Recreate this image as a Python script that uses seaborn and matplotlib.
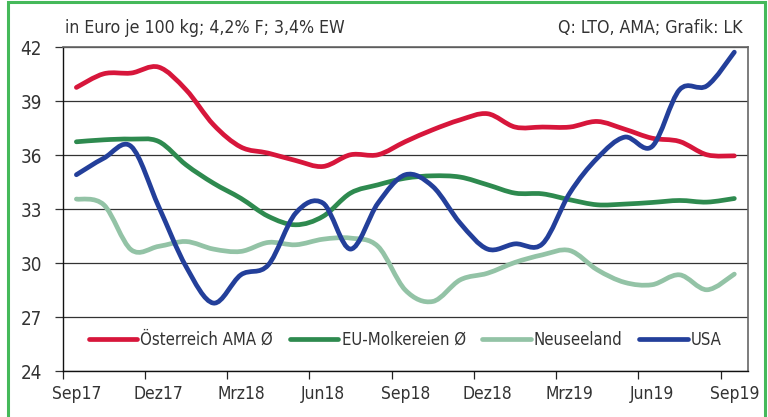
import numpy as np
import pandas as pd
import matplotlib
matplotlib.use("Agg")
import matplotlib.pyplot as plt
from matplotlib.path import Path
from matplotlib.patches import PathPatch, Rectangle
from matplotlib.lines import Line2D
import seaborn as sns

# Monatswerte Sep17 .. Sep19
months = ["Sep17", "Okt17", "Nov17", "Dez17", "Jan18", "Feb18", "Mrz18", "Apr18", "Mai18",
          "Jun18", "Jul18", "Aug18", "Sep18", "Okt18", "Nov18", "Dez18", "Jan19", "Feb19",
          "Mrz19", "Apr19", "Mai19", "Jun19", "Jul19", "Aug19", "Sep19"]

oesterreich = [39.76, 40.52, 40.56, 40.89, 39.63, 37.69, 36.45, 36.11, 35.70, 35.37, 36.02, 36.02,
               36.75, 37.41, 37.96, 38.30, 37.56, 37.56, 37.56, 37.87, 37.44, 36.94, 36.76, 36.02, 35.96]
eu_molkereien = [36.74, 36.85, 36.89, 36.76, 35.46, 34.44, 33.60, 32.60, 32.13, 32.60, 33.89, 34.35,
                 34.72, 34.85, 34.78, 34.35, 33.89, 33.85, 33.52, 33.24, 33.28, 33.37, 33.48, 33.39, 33.59]
neuseeland = [33.56, 33.24, 30.74, 30.93, 31.20, 30.78, 30.65, 31.15, 31.02, 31.33, 31.39, 30.93,
              28.50, 27.87, 29.07, 29.44, 30.04, 30.46, 30.70, 29.63, 28.93, 28.80, 29.35, 28.52, 29.39]
usa = [34.91, 35.83, 36.48, 33.15, 29.81, 27.78, 29.35, 29.90, 32.78, 33.33, 30.78, 33.33,
       34.91, 34.26, 32.22, 30.78, 31.07, 31.07, 33.90, 35.83, 37.00, 36.48, 39.63, 39.85, 41.72]

labels = ["Österreich AMA Ø", "EU-Molkereien Ø", "Neuseeland", "USA"]
colors = ["#D7163B", "#2E8A4F", "#93C3A6", "#233F9A"]
tick_labels = ["Sep17", "Dez17", "Mrz18", "Jun18", "Sep18", "Dez18", "Mrz19", "Jun19", "Sep19"]

sns.set_style("white")
plt.rcParams["font.family"] = ["DejaVu Sans"]
plt.rcParams["font.stretch"] = "condensed"

df = pd.DataFrame({
    "monat": months * 4,
    "pos": list(np.arange(len(months)) + 0.5) * 4,
    "wert": oesterreich + eu_molkereien + neuseeland + usa,
    "serie": [l for l in labels for _ in months],
})

fig = plt.figure(figsize=(7.68, 4.17), dpi=100)
ax = fig.add_axes([0.0816, 0.110, 0.8924, 0.777])

# seaborn legt die Daten an, die Kurven werden geglättet darüber gezeichnet
sns.lineplot(data=df, x="pos", y="wert", hue="serie", palette=dict(zip(labels, colors)),
             linewidth=0, legend=False, ax=ax)


def smooth_path(x, y):
    # Catmull-Rom -> Bezier, wie die geglätteten Linien in Excel
    p = np.column_stack([x, y])
    n = len(p)
    verts = [p[0]]
    codes = [Path.MOVETO]
    for i in range(n - 1):
        p0 = p[i - 1] if i > 0 else p[i]
        p3 = p[i + 2] if i + 2 < n else p[i + 1]
        c1 = p[i] + (p[i + 1] - p0) / 6
        c2 = p[i + 1] - (p3 - p[i]) / 6
        verts += [c1, c2, p[i + 1]]
        codes += [Path.CURVE4] * 3
    return Path(verts, codes)


for lab, col in zip(labels, colors):
    sub = df[df["serie"] == lab]
    patch = PathPatch(smooth_path(sub["pos"].values, sub["wert"].values), facecolor="none",
                      edgecolor=col, linewidth=3.4, capstyle="round", joinstyle="round", zorder=3)
    ax.add_patch(patch)

ax.set_xlim(0, 25)
ax.set_ylim(24, 42)
ax.set_yticks(np.arange(24, 43, 3))
ax.yaxis.grid(True, color="#333333", linewidth=0.9)
ax.set_axisbelow(True)

ax.set_xticks(np.arange(0, 25, 3))
ax.set_xticklabels([])
ax.set_xticks(np.arange(0, 25, 3) + 0.5, minor=True)
ax.set_xticklabels(tick_labels, minor=True)
ax.tick_params(axis="x", which="major", length=6, width=0.9, color="#222222", direction="out", bottom=True)
ax.tick_params(axis="x", which="minor", length=0, pad=10, labelsize=12.5, labelcolor="#333333")
ax.tick_params(axis="y", length=6, width=0.9, color="#333333", direction="out", left=True,
               pad=9, labelsize=13.5, labelcolor="#333333")
ax.set_xlabel("")
ax.set_ylabel("")

for side in ["left", "bottom"]:
    ax.spines[side].set_color("#111111")
    ax.spines[side].set_linewidth(1.0)
for side in ["top", "right"]:
    ax.spines[side].set_color("#666666")
    ax.spines[side].set_linewidth(1.2)

handles = [Line2D([], [], color=c, linewidth=3.4) for c in colors]
ax.legend(handles, labels, loc="center", bbox_to_anchor=(0.5, 0.096), ncol=4, frameon=False,
          fontsize=12, handlelength=2.9, handletextpad=0.2, columnspacing=1.0,
          labelcolor="#333333")

fig.text(65 / 768, 1 - 33 / 417, "in Euro je 100 kg; 4,2% F; 3,4% EW", fontsize=12.7,
         color="#333333", ha="left", va="baseline")
fig.text(743 / 768, 1 - 33 / 417, "Q: LTO, AMA; Grafik: LK", fontsize=12.7,
         color="#333333", ha="right", va="baseline")

# grüner Rahmen
fig.patches.append(Rectangle((8 / 768, -0.05), 757 / 768, 1.05 - 1.5 / 417, transform=fig.transFigure,
                             facecolor="none", edgecolor="#45B95A", linewidth=2.2))

fig.savefig("out.png", dpi=100)
